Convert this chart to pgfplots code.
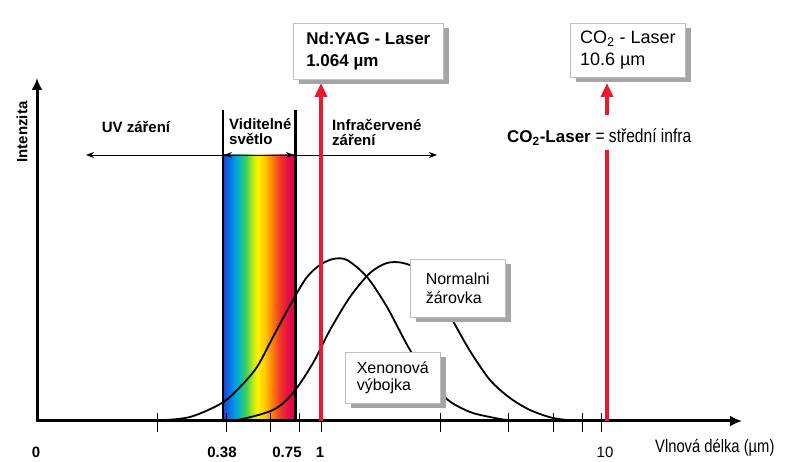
\documentclass[border=0pt]{standalone}
\usepackage{pgfplots}
\pgfplotsset{compat=1.18}
\usepackage{fontspec}
\setmainfont{Liberation Sans}
\newfontfamily\narrow[FakeStretch=0.82]{Liberation Sans}
\usetikzlibrary{shadows,arrows.meta}

\definecolor{laser}{RGB}{235,25,45}
\definecolor{shadowgray}{RGB}{165,165,165}
\definecolor{boxedge}{RGB}{190,190,190}
\definecolor{rbA}{RGB}{40,60,210}
\definecolor{rbB}{RGB}{10,110,235}
\definecolor{rbC}{RGB}{0,175,210}
\definecolor{rbD}{RGB}{60,210,90}
\definecolor{rbE}{RGB}{200,235,20}
\definecolor{rbF}{RGB}{255,240,0}
\definecolor{rbG}{RGB}{255,200,0}
\definecolor{rbH}{RGB}{250,130,10}
\definecolor{rbI}{RGB}{240,50,40}
\definecolor{rbJ}{RGB}{230,10,70}
\definecolor{rbK}{RGB}{220,0,80}
% tikz maps the middle 50bp of the shading onto the path
\pgfdeclarehorizontalshading{rainbow}{100bp}{color(0bp)=(rbA); color(25bp)=(rbA);
  color(29bp)=(rbB); color(35bp)=(rbC); color(41bp)=(rbD); color(46bp)=(rbE);
  color(49bp)=(rbF); color(54bp)=(rbG); color(59bp)=(rbH); color(65bp)=(rbI);
  color(71bp)=(rbJ); color(75bp)=(rbK); color(100bp)=(rbK)}

\tikzset{
  box/.style={draw=boxedge, fill=white, line width=0.6pt, anchor=north west,
    align=left, inner xsep=6pt,
    drop shadow={shadow xshift=6pt, shadow yshift=-5pt, fill=shadowgray, opacity=1}},
}

\begin{document}
\begin{tikzpicture}
\begin{axis}[
  width=785pt, height=461pt, scale only axis,
  xmin=0, xmax=785, ymin=0, ymax=461,
  axis lines=none, clip=false,
]
% visible band
\addplot[draw=none, shade, shading=rainbow] coordinates {(223,40) (295,40) (295,306) (223,306) (223,40)};
\addplot[black, line width=2pt] coordinates {(223,40) (223,351)};
\addplot[black, line width=3pt] coordinates {(295,40) (295,351)};

% ticks on the wavelength axis
\pgfplotsinvokeforeach{157,226,270,299,321,440,508,553,582,601}{
  \addplot[black, line width=0.9pt] coordinates {(#1,29) (#1,48)};
}

% Xenon lamp
\addplot[black, line width=1.8pt, smooth, tension=0.5] coordinates {
  (135,40) (157,40.5) (190,44) (222,58) (240,74) (257,94) (273,124) (293,161)
  (307,184) (320,196) (333,202) (347,201) (367,184) (387,154) (410,111)
  (430,82) (448,61) (470,49) (490,44) (507,41) (530,40)
};
% normal bulb
\addplot[black, line width=1.8pt, smooth, tension=0.5] coordinates {
  (210,40) (237,41) (273,51) (293,68) (313,98) (330,131) (350,164) (370,188)
  (387,198) (403,198) (420,190) (440,163) (453,140) (470,110) (490,81)
  (510,63) (530,51) (553,43) (578,40)
};

% axes
\addplot[black, line width=3pt, -{Latex[length=12pt,width=11pt]}] coordinates {(37,40) (37,383)};
\addplot[black, line width=3pt, -{Latex[length=12pt,width=11pt]}] coordinates {(35.5,40) (742,40)};

% region arrows
\addplot[black, line width=0.8pt, {Stealth[length=8pt,width=6pt]}-{Stealth[length=8pt,width=6pt]}] coordinates {(86,306) (437,306)};
\addplot[black, line width=0.8pt, {Stealth[length=8pt,width=6pt]}-{Stealth[length=8pt,width=6pt]}] coordinates {(224,306) (294,306)};

% laser lines
\addplot[laser, line width=4pt, -{Triangle[length=14pt,width=12pt]}] coordinates {(321,40) (321,378)};
\addplot[laser, line width=4pt] coordinates {(607,40) (607,311)};
\addplot[laser, line width=4pt, -{Triangle[length=14pt,width=12pt]}] coordinates {(607,346) (607,378)};

% boxes
\node[box, minimum width=150pt, minimum height=56pt, font=\bfseries\fontsize{17}{22}\selectfont]
  at (axis cs:293,438) {Nd:YAG - Laser\\1.064 µm};
\node[box, minimum width=115pt, minimum height=54pt, inner xsep=9pt, font=\fontsize{18}{22}\selectfont]
  at (axis cs:570,438) {CO\textsubscript{2} - Laser\\10.6 µm};
\node[box, minimum width=95pt, minimum height=58pt, inner xsep=10pt, font=\fontsize{16}{19}\selectfont]
  at (axis cs:410,202) {Normalni\\žárovka};
\node[box, minimum width=95pt, minimum height=51pt, inner xsep=10pt, font=\fontsize{16}{17}\selectfont]
  at (axis cs:345,109) {Xenonová\\výbojka};

% labels
\node[font=\bfseries\fontsize{15}{15}\selectfont] at (axis cs:136,334) {UV záření};
\node[anchor=west, align=left, inner sep=0pt, font=\bfseries\fontsize{15}{15}\selectfont]
  at (axis cs:229,329) {Viditelné\\světlo};
\node[anchor=west, align=left, inner sep=0pt, font=\bfseries\fontsize{15}{15}\selectfont]
  at (axis cs:332,329) {Infračervené\\záření};
\node[anchor=west, inner sep=0pt, font=\fontsize{17}{17}\selectfont]
  at (axis cs:507,324) {\textbf{CO\textsubscript{2}-Laser} {\narrow\fontsize{19}{19}\selectfont = střední infra}};
\node[rotate=90, font=\bfseries\fontsize{15}{15}\selectfont] at (axis cs:22,329) {Intenzita};
\node[anchor=west, inner sep=0pt, font=\narrow\fontsize{18}{18}\selectfont]
  at (axis cs:655,13) {Vlnová délka (µm)};

% tick labels
\node[font=\bfseries\fontsize{15}{15}\selectfont] at (axis cs:36,9) {0};
\node[font=\bfseries\fontsize{15}{15}\selectfont] at (axis cs:222,9) {0.38};
\node[font=\bfseries\fontsize{15}{15}\selectfont] at (axis cs:287,9) {0.75};
\node[font=\bfseries\fontsize{15}{15}\selectfont] at (axis cs:320,9) {1};
\node[font=\fontsize{15}{15}\selectfont] at (axis cs:605,9) {10};
\end{axis}
\pgfresetboundingbox
\useasboundingbox (current axis.south west) rectangle (current axis.north east);
\end{tikzpicture}
\end{document}
